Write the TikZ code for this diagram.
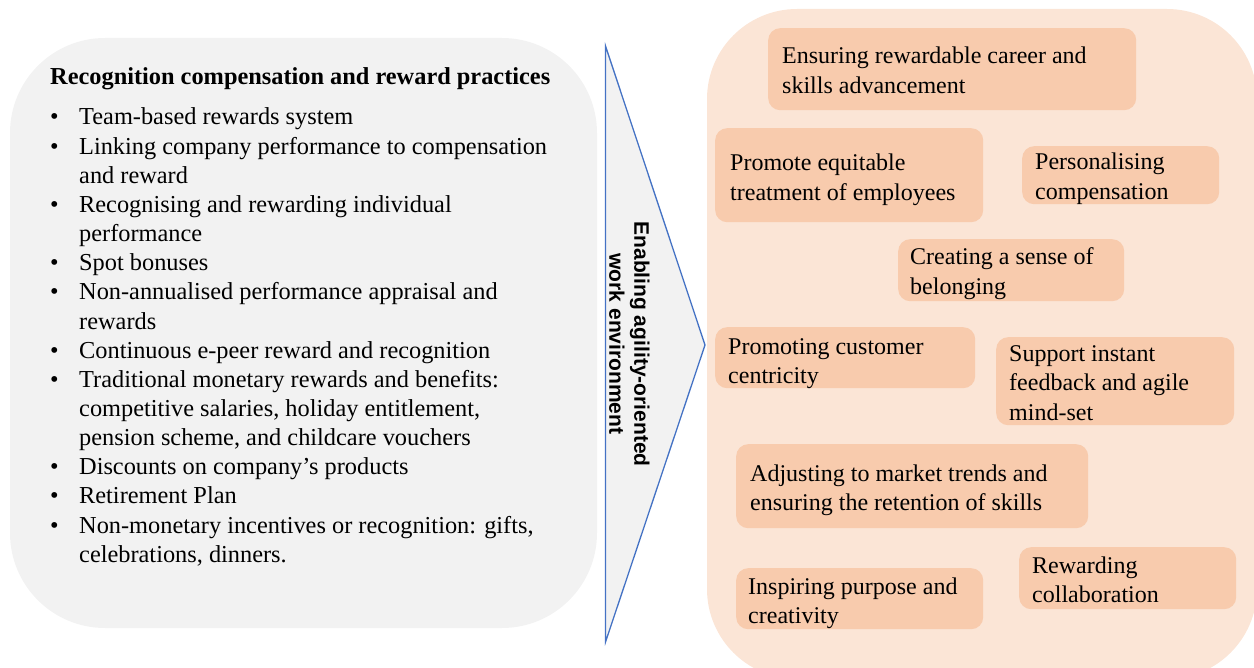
\documentclass[tikz,border=0pt]{standalone}
\usepackage{fontspec}
\setmainfont{Liberation Serif}
\newfontfamily\sansf{Liberation Sans}
\usepackage{array}
\definecolor{leftgray}{HTML}{F2F2F2}
\definecolor{peach}{HTML}{FBE5D6}
\definecolor{boxpeach}{HTML}{F8CBAD}
\definecolor{triblue}{HTML}{4472C4}
\tikzset{
  obox/.style={fill=boxpeach, rounded corners=12pt, inner sep=0pt, anchor=north west},
  otext/.style={inner sep=0pt, anchor=base west, align=left, font=\fontsize{24}{29.6}\selectfont},
  bodytext/.style={inner sep=0pt, anchor=base west, font=\fontsize{24.35}{29.15}\selectfont},
}
\begin{document}
\begin{tikzpicture}[x=1pt,y=-1pt]
\useasboundingbox (0,0) rectangle (1254,668);
\begin{scope}
\clip (0,0) rectangle (1254,668);
% left panel
\fill[leftgray, rounded corners=95pt] (10,38) rectangle (597,628);
% right panel
\fill[peach, rounded corners=90pt] (707,9) rectangle (1257,679);
\end{scope}
% triangle
\coordinate (tA) at (605.5,46);
\coordinate (tB) at (705,345);
\coordinate (tC) at (605.5,642);
\draw[triblue, fill=leftgray, line width=1.3pt, line join=miter] (tA) -- (tB) -- (tC) -- cycle;
\node[rotate=-90, align=center, inner sep=0pt, font=\sansf\bfseries\fontsize{21}{25}\selectfont] (vt) at (629.5,344) {Enabling agility-oriented\\work environment};
% heading
\node[inner sep=0pt, anchor=base west, font=\bfseries\fontsize{24.35}{29}\selectfont] (head) at (50,85) {Recognition compensation and reward practices};
% list
\node[bodytext] (list) at (50,125) {%
\renewcommand{\arraystretch}{1}%
\begin{tabular}[t]{@{}p{29pt}@{}l@{}}
\textbullet & Team-based rewards system\\
\textbullet & Linking company performance to compensation\\
 & and reward\\
\textbullet & Recognising and rewarding individual\\
 & performance\\
\textbullet & Spot bonuses\\
\textbullet & Non-annualised performance appraisal and\\
 & rewards\\
\textbullet & Continuous e-peer reward and recognition\\
\textbullet & Traditional monetary rewards and benefits:\\
 & competitive salaries, holiday entitlement,\\
 & pension scheme, and childcare vouchers\\
\textbullet & Discounts on company’s products\\
\textbullet & Retirement Plan\\
\textbullet & Non-monetary incentives or recognition: gifts,\\
 & celebrations, dinners.
\end{tabular}};
% boxes
\node[obox, minimum width=368pt, minimum height=82pt] (b1) at (768,28) {};
\node[obox, minimum width=268pt, minimum height=94pt] (b2) at (715,128) {};
\node[obox, minimum width=197pt, minimum height=58pt] (b3) at (1022,146) {};
\node[obox, minimum width=226pt, minimum height=62pt] (b4) at (898,239) {};
\node[obox, minimum width=260pt, minimum height=61pt] (b5) at (715,327) {};
\node[obox, minimum width=238pt, minimum height=88pt] (b6) at (996,337) {};
\node[obox, minimum width=352pt, minimum height=84pt] (b7) at (736,444) {};
\node[obox, minimum width=217pt, minimum height=62pt] (b8) at (1019,547) {};
\node[obox, minimum width=247pt, minimum height=61pt] (b9) at (736,568) {};
% box texts (anchor = baseline of last line)
\node[otext] (t1) at (782,93.6) {Ensuring rewardable career and\\skills advancement};
\node[otext] (t2) at (730,200.6) {Promote equitable\\treatment of employees};
\node[otext] (t3) at (1035,199.6) {Personalising\\compensation};
\node[otext] (t4) at (910,294.6) {Creating a sense of\\belonging};
\node[otext] (t5) at (728,383.6) {Promoting customer\\centricity};
\node[otext] (t6) at (1009,420.2) {Support instant\\feedback and agile\\mind-set};
\node[otext] (t7) at (750,510.6) {Adjusting to market trends and\\ensuring the retention of skills};
\node[otext] (t8) at (1032,602.6) {Rewarding\\collaboration};
\node[otext] (t9) at (748,623.6) {Inspiring purpose and\\creativity};
\end{tikzpicture}
\end{document}
